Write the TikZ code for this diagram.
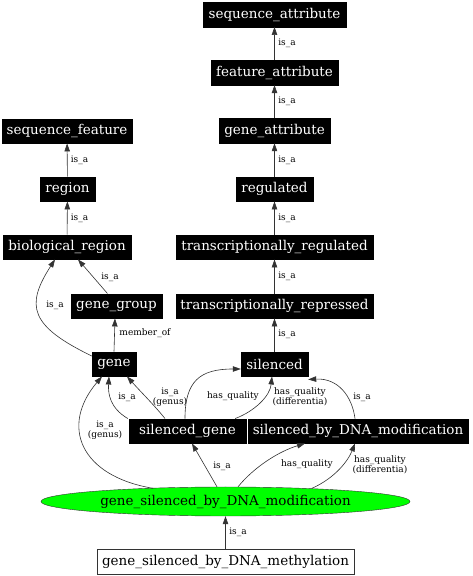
\documentclass[tikz,border=0pt]{standalone}
\usepackage{fontspec}
\setmainfont{DejaVu Serif}
\usetikzlibrary{arrows.meta,shapes.geometric,calc}
\begin{document}
\begin{tikzpicture}[x=1pt,y=1pt,
  box/.style={fill=black,draw=black,text=white,font=\fontsize{13.5}{15}\selectfont,minimum height=24.5pt,inner xsep=0pt,inner ysep=0pt},
  wbox/.style={fill=white,draw=black!80,text=black,font=\fontsize{13.5}{15}\selectfont,minimum height=25pt,inner xsep=0pt,inner ysep=0pt},
  gell/.style={ellipse,fill=green,draw=black!80,text=black,font=\fontsize{13.5}{15}\selectfont,minimum width=369pt,minimum height=29pt,inner sep=0pt},
  lbl/.style={font=\fontsize{9}{10}\selectfont,align=center,inner sep=0pt},
  edge/.style={draw=black!80,line width=0.6pt,-{Triangle[length=8pt,width=5.5pt]}}]
\useasboundingbox (0,0) rectangle (472,576);
% right column
\node[box,minimum width=143pt] (seqattr) at (274.5,561.5) {sequence\_attribute};
\node[box,minimum width=127pt] (featattr) at (274.5,503.3) {feature\_attribute};
\node[box,minimum width=111pt] (geneattr) at (274.5,445.2) {gene\_attribute};
\node[box,minimum width=77pt] (regulated) at (274.5,387) {regulated};
\node[box,minimum width=197pt] (treg) at (274.5,329) {transcriptionally\_regulated};
\node[box,minimum width=197pt] (trep) at (274.5,270) {transcriptionally\_repressed};
\node[box,minimum width=67pt] (silenced) at (274.5,212) {silenced};
% left column
\node[box,minimum width=130pt] (seqfeat) at (67,445) {sequence\_feature};
\node[box,minimum width=55pt] (region) at (67.5,387) {region};
\node[box,minimum width=128pt] (bioreg) at (67,329) {biological\_region};
\node[box,minimum width=91pt] (genegroup) at (116.5,270) {gene\_group};
\node[box,minimum width=44pt] (gene) at (114,212) {gene};
% lower rows
\node[box,minimum width=117pt] (silgene) at (187.5,145) {silenced\_gene};
\node[box,minimum width=220pt] (sbdm) at (358,145) {silenced\_by\_DNA\_modification};
\node[gell] (gsbdm) at (225.5,74.5) {gene\_silenced\_by\_DNA\_modification};
\node[wbox,minimum width=257pt] (methyl) at (225.5,14.5) {gene\_silenced\_by\_DNA\_methylation};

% straight is_a chain (right)
\draw[edge] (featattr) -- (seqattr);
\draw[edge] (geneattr) -- (featattr);
\draw[edge] (regulated) -- (geneattr);
\draw[edge] (treg) -- (regulated);
\draw[edge] (trep) -- (treg);
\draw[edge] (silenced) -- (trep);
\node[lbl] (l1) at (287,533) {is\_a};
\node[lbl] (l2) at (287,475) {is\_a};
\node[lbl] (l3) at (287,416) {is\_a};
\node[lbl] (l4) at (287,358) {is\_a};
\node[lbl] (l5) at (287,300) {is\_a};
\node[lbl] (l6) at (287,242) {is\_a};
% left chain
\draw[edge] (region) -- (seqfeat);
\draw[edge] (bioreg) -- (region);
\node[lbl] (l7) at (79.5,416) {is\_a};
\node[lbl] (l8) at (79.5,358) {is\_a};
% gene -> biological_region
\draw[edge] ([yshift=8pt]gene.west) .. controls (30,250) and (25,270) .. ([xshift=-12pt]bioreg.south);
\node[lbl] (l9) at (55,271) {is\_a};
% gene_group -> biological_region
\draw[edge] ([xshift=-9pt]genegroup.north) -- ([xshift=11pt]bioreg.south);
\node[lbl] (l10) at (110,299) {is\_a};
% gene -> gene_group
\draw[edge] (gene.north) -- ([xshift=-1.5pt]genegroup.south);
\node[lbl] (l11) at (145,243) {member\_of};
% silenced_gene -> gene (is_a)
\draw[edge] ([xshift=-1pt]silgene.north west) .. controls (110,168) and (108,182) .. ([xshift=-5pt]gene.south);
\node[lbl] (l12) at (127,179) {is\_a};
% silenced_gene -> gene (is_a genus)
\draw[edge] ([xshift=-22.5pt]silgene.north) .. controls (155,170) and (140,185) .. ([xshift=13pt]gene.south);
\node[lbl] (l13) at (170,179) {is\_a\\(genus)};
% ellipse -> gene (is_a genus)
\draw[edge] ([xshift=-72.5pt,yshift=-1.5pt]gsbdm.north) .. controls (80,100) and (60,150) .. ([xshift=-12pt]gene.south);
\node[lbl] (l14) at (105,146) {is\_a\\(genus)};
% silenced_gene -> silenced (has_quality)
\draw[edge] ([xshift=-2.5pt]silgene.north) .. controls (185,195) and (200,207) .. ([yshift=-5pt]silenced.west);
\node[lbl] (l15) at (233,180) {has\_quality};
% silenced_gene -> silenced (has_quality differentia)
\draw[edge] ([xshift=-11pt]silgene.north east) .. controls (255,165) and (270,180) .. ([xshift=-2.5pt]silenced.south);
\node[lbl] (l16) at (300,179) {has\_quality\\(differentia)};
% silenced_by_DNA_modification -> silenced (is_a)
\draw[edge] ([xshift=-3pt]sbdm.north) .. controls (352,180) and (338,198) .. ([yshift=-3pt]silenced.south east);
\node[lbl] (l17) at (362,179) {is\_a};
% ellipse -> silenced_gene
\draw[edge] ([xshift=-8.5pt]gsbdm.north) -- ([xshift=4.5pt]silgene.south);
\node[lbl] (l18) at (222,110) {is\_a};
% ellipse -> sbdm has_quality
\draw[edge] ([xshift=12.5pt]gsbdm.north) .. controls (255,110) and (280,125) .. ([xshift=-53pt]sbdm.south);
\node[lbl] (l19) at (307,112) {has\_quality};
% ellipse -> sbdm has_quality differentia
\draw[edge] ([xshift=86.5pt,yshift=-1.5pt]gsbdm.north) .. controls (335,98) and (348,115) .. ([xshift=-3pt]sbdm.south);
\node[lbl] (l20) at (380,111) {has\_quality\\(differentia)};
% methylation -> ellipse
\draw[edge] (methyl) -- (gsbdm);
\node[lbl] (l21) at (238,44) {is\_a};
\end{tikzpicture}
\end{document}
